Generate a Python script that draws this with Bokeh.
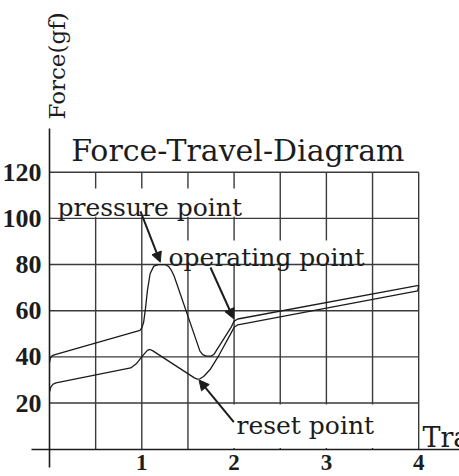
import math
from bokeh.plotting import figure
from bokeh.models import Range1d, LinearAxis, FixedTicker, BoxAnnotation, Arrow, NormalHead
from bokeh.core.properties import value
from bokeh.embed import file_html
from bokeh.resources import INLINE

# ---------------- data ----------------
x_ticks = [1, 2, 3, 4]
y_ticks = [20, 40, 60, 80, 100, 120]
x_grid = [0.5, 1, 1.5, 2, 2.5, 3, 3.5, 4]

# press (actuation) curve
press_x = [0.0, 0.01, 0.03, 0.06, 0.98, 1.0, 1.02, 1.04, 1.06, 1.09, 1.13, 1.18, 1.25,
           1.29, 1.32, 1.35, 1.63, 1.66, 1.70, 1.75, 1.78, 1.97, 2.0, 2.04, 4.0]
press_y = [37.5, 39.5, 40.5, 41.0, 51.5, 52.5, 55.0, 61.0, 68.5, 76.0, 79.3, 80.0, 80.0,
           79.2, 77.5, 75.0, 42.5, 41.0, 40.3, 40.3, 41.0, 53.0, 55.5, 56.4, 71.0]

# release (return) curve
release_x = [4.0, 3.99, 2.04, 2.0, 1.97, 1.84, 1.74, 1.67, 1.63, 1.60, 1.57, 1.12, 1.09,
             1.06, 1.02, 0.98, 0.94, 0.88, 0.07, 0.04, 0.015, 0.0]
release_y = [71.0, 68.6, 53.9, 52.8, 50.5, 41.0, 34.5, 31.5, 30.5, 30.4, 30.9, 42.6, 43.2,
             42.8, 41.0, 39.0, 37.0, 35.2, 28.7, 28.2, 27.0, 24.7]

title_text = "Force-Travel-Diagram"
y_label = "Force(gf)"
x_label = "Travel(mm)"
note_texts = ["pressure point", "operating point", "reset point"]
note_target_x = [1.20, 1.995, 1.62]
note_target_y = [81.0, 56.5, 30.0]

# ---------------- layout ----------------
W, H = 459, 476
ox, oy = 49.0, 448.7          # pixel position of data origin inside figure
sx, sy = 92.3, 277.0 / 120.0  # pixels per data unit

p = figure(width=W, height=H,
           x_range=Range1d(-ox / sx, (W - ox) / sx),
           y_range=Range1d(-(H - oy) / sy, oy / sy),
           x_axis_type=None, y_axis_type=None,
           toolbar_location=None, output_backend="svg",
           min_border=0, outline_line_color=None,
           background_fill_color="white", border_fill_color="white")

ink = "#1c1c1c"
grid_col = "#3a3a3a"
serif = value("DejaVu Serif")

# grid
p.segment(x0=0, y0=y_ticks, x1=x_grid[-1], y1=y_ticks,
          line_color=grid_col, line_width=1.4, level="image")
p.segment(x0=x_grid, y0=0, x1=x_grid, y1=y_ticks[-1],
          line_color=grid_col, line_width=1.4, level="image")

# white backgrounds behind the notes
for (l, r, b, t) in [(0.065, 2.08, 100.7, 112.9),
                     (1.285, 3.456, 80.7, 90.4),
                     (1.975, 3.985, 0.5, 19.4)]:
    p.add_layout(BoxAnnotation(left=l, right=r, bottom=b, top=t,
                               fill_color="white", fill_alpha=1.0,
                               line_color=None, level="underlay"))

# axes
common = dict(axis_line_color=ink, axis_line_width=1.6,
              major_tick_line_color=None, minor_tick_line_color=None,
              major_label_text_font="Liberation Serif",
              major_label_text_font_style="bold",
              major_label_text_color=ink)
yax = LinearAxis(ticker=FixedTicker(ticks=y_ticks), fixed_location=0,
                 bounds=(-7.8, 138.9), major_label_standoff=2,
                 major_label_text_font_size="26px", **common)
xax = LinearAxis(ticker=FixedTicker(ticks=x_ticks), fixed_location=0,
                 bounds=(-0.195, 4.5), major_label_standoff=0,
                 major_label_text_font_size="23px", **common)
p.add_layout(yax, "left")
p.add_layout(xax, "below")

# curves
p.line(press_x, press_y, line_color=ink, line_width=1.3)
p.line(release_x, release_y, line_color=ink, line_width=1.3)

# texts
p.text(x=[0.235], y=[129.4], text=[title_text], text_font=serif,
       text_font_size="30px", text_align="left", text_baseline="alphabetic",
       text_color=ink)
p.text(x=[0.076], y=[142.8], text=[y_label], text_font=serif, angle=math.pi / 2,
       text_font_size="23px", text_align="left", text_baseline="alphabetic",
       text_color=ink)
p.text(x=[4.04], y=[5.1], text=[x_label], text_font=serif,
       text_font_size="27px", text_align="left", text_baseline="alphabetic",
       text_color=ink)

note_pos = [(0.087, 104.7), (1.29, 83.0), (2.026, 10.3)]
for txt, (tx, ty) in zip(note_texts, note_pos):
    p.text(x=[tx], y=[ty], text=[txt], text_font=serif, text_font_size="25px",
           text_align="left", text_baseline="alphabetic", text_color=ink)

# arrows
tails = [(0.986, 103.0), (1.744, 78.7), (1.997, 11.7)]
for (x0, y0), x1, y1 in zip(tails, note_target_x, note_target_y):
    p.add_layout(Arrow(end=NormalHead(size=10, fill_color=ink, line_color=ink),
                       x_start=x0, y_start=y0, x_end=x1, y_end=y1,
                       line_color=ink, line_width=2))

open("out.html", "w").write(file_html(p, INLINE))
